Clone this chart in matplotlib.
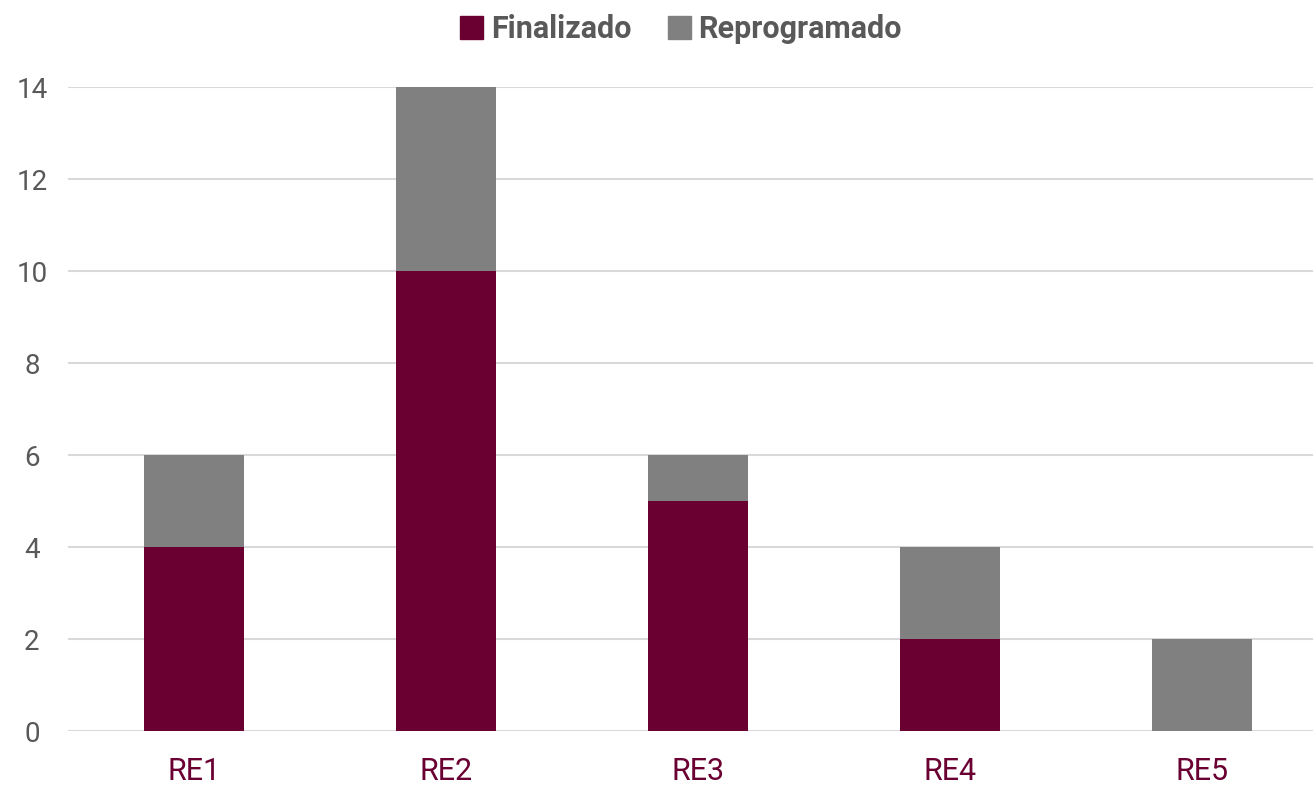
import matplotlib
matplotlib.use("Agg")
import matplotlib.pyplot as plt
from matplotlib.patches import Patch

categories = ["RE1", "RE2", "RE3", "RE4", "RE5"]
finalizado = [4, 10, 5, 2, 0]
reprogramado = [2, 4, 1, 2, 2]
yticks = [0, 2, 4, 6, 8, 10, 12, 14]

maroon = "#6A0032"
gray = "#808080"
text_gray = "#595959"

plt.rcParams['font.family'] = ['Roboto', 'DejaVu Sans']

fig = plt.figure(figsize=(13.13, 7.87), dpi=100)
ax = fig.add_axes([68/1313, 56/787, 1245/1313, 644/787])

x = list(range(len(categories)))
ax.bar(x, finalizado, width=0.4, color=maroon, label="Finalizado", zorder=3)
ax.bar(x, reprogramado, width=0.4, bottom=finalizado, color=gray, label="Reprogramado", zorder=3)

ax.set_xlim(-0.5, -0.5 + 1245/252)
ax.set_ylim(0, 14)
ax.set_yticks(yticks)
ax.set_xticks(x)
ax.set_xticklabels(categories, fontsize=22, color=maroon)
ax.tick_params(axis='x', length=0, pad=19)
ax.tick_params(axis='y', length=0, pad=26, labelsize=20, labelcolor=text_gray)
for lab in ax.get_yticklabels():
    lab.set_horizontalalignment('center')
ax.yaxis.grid(True, color="#D9D9D9", linewidth=1.5, zorder=0)
for s in ax.spines.values():
    s.set_visible(False)

handles = [Patch(color=maroon, label="Finalizado"), Patch(color=gray, label="Reprogramado")]
leg = fig.legend(handles=handles, loc='center', bbox_to_anchor=(681/1313, 1 - 29/787), ncol=2,
                 frameon=False, handlelength=0.75, handleheight=0.75, handletextpad=0.25,
                 columnspacing=1.2, prop={'weight': 'bold', 'size': 22})
for t in leg.get_texts():
    t.set_color(text_gray)

fig.savefig("out.png", dpi=100)
